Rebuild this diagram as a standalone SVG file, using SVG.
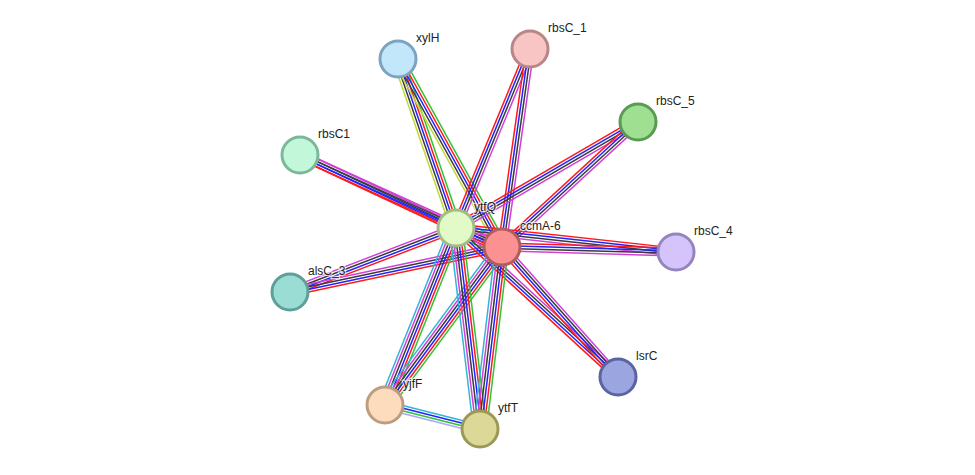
<svg xmlns="http://www.w3.org/2000/svg" width="975" height="475" viewBox="0 0 975 475">
<style>
.e line{stroke-width:1.5;fill:none}
.r{stroke:#ff1a1a}.b{stroke:#2222ff}.k{stroke:#3a3a3a}.m{stroke:#d040d8}.g{stroke:#33c233}.c{stroke:#33b4d6}.y{stroke:#c4d838}.l{stroke:#a8a8ff}
.n circle{stroke-width:3}
.n text{font-family:"Liberation Sans",Arial,sans-serif;font-size:12px;fill:#222;stroke:#fff;stroke-width:2.5;stroke-opacity:0.7;paint-order:stroke}
</style>
<rect width="975" height="475" fill="#fff"/>
<g id="edges" class="e">
<g transform="translate(456 228) rotate(22.44)"><line x2="49.8" y1="-7.8" y2="-7.8" class="c"/><line x2="49.8" y1="-5.2" y2="-5.2" class="y"/><line x2="49.8" y1="-2.6" y2="-2.6" class="m"/><line x2="49.8" class="k"/><line x2="49.8" y1="2.6" y2="2.6" class="b"/><line x2="49.8" y1="5.2" y2="5.2" class="r"/><line x2="49.8" y1="7.8" y2="7.8" class="g"/></g>
<g transform="translate(398 59) rotate(71.06)"><line x2="178.7" y1="-5.2" y2="-5.2" class="g"/><line x2="178.7" y1="-2.6" y2="-2.6" class="r"/><line x2="178.7" class="b"/><line x2="178.7" y1="2.6" y2="2.6" class="k"/><line x2="178.7" y1="5.2" y2="5.2" class="y"/></g>
<g transform="translate(398 59) rotate(61.05)"><line x2="214.8" y1="-5.2" y2="-5.2" class="g"/><line x2="214.8" y1="-2.6" y2="-2.6" class="r"/><line x2="214.8" class="b"/><line x2="214.8" y1="2.6" y2="2.6" class="k"/><line x2="214.8" y1="5.2" y2="5.2" class="y"/></g>
<g transform="translate(530 49) rotate(112.46)"><line x2="193.7" y1="-3.9" y2="-3.9" class="m"/><line x2="193.7" y1="-1.3" y2="-1.3" class="k"/><line x2="193.7" y1="1.3" y2="1.3" class="b"/><line x2="193.7" y1="3.9" y2="3.9" class="r"/></g>
<g transform="translate(530 49) rotate(98.05)"><line x2="200" y1="-3.9" y2="-3.9" class="m"/><line x2="200" y1="-1.3" y2="-1.3" class="k"/><line x2="200" y1="1.3" y2="1.3" class="b"/><line x2="200" y1="3.9" y2="3.9" class="r"/></g>
<g transform="translate(638 122) rotate(149.78)"><line x2="210.6" y1="-3.9" y2="-3.9" class="m"/><line x2="210.6" y1="-1.3" y2="-1.3" class="k"/><line x2="210.6" y1="1.3" y2="1.3" class="b"/><line x2="210.6" y1="3.9" y2="3.9" class="r"/></g>
<g transform="translate(638 122) rotate(137.41)"><line x2="184.7" y1="-3.9" y2="-3.9" class="m"/><line x2="184.7" y1="-1.3" y2="-1.3" class="k"/><line x2="184.7" y1="1.3" y2="1.3" class="b"/><line x2="184.7" y1="3.9" y2="3.9" class="r"/></g>
<g transform="translate(300 155) rotate(25.08)"><line x2="172.2" y1="-3.9" y2="-3.9" class="m"/><line x2="172.2" y1="-1.3" y2="-1.3" class="k"/><line x2="172.2" y1="1.3" y2="1.3" class="b"/><line x2="172.2" y1="3.9" y2="3.9" class="r"/></g>
<g transform="translate(300 155) rotate(24.49)"><line x2="222" y1="-3.9" y2="-3.9" class="m"/><line x2="222" y1="-1.3" y2="-1.3" class="k"/><line x2="222" y1="1.3" y2="1.3" class="b"/><line x2="222" y1="3.9" y2="3.9" class="r"/></g>
<g transform="translate(290 292) rotate(-21.08)"><line x2="177.9" y1="-3.9" y2="-3.9" class="m"/><line x2="177.9" y1="-1.3" y2="-1.3" class="k"/><line x2="177.9" y1="1.3" y2="1.3" class="b"/><line x2="177.9" y1="3.9" y2="3.9" class="r"/></g>
<g transform="translate(290 292) rotate(-11.98)"><line x2="216.7" y1="-3.9" y2="-3.9" class="m"/><line x2="216.7" y1="-1.3" y2="-1.3" class="k"/><line x2="216.7" y1="1.3" y2="1.3" class="b"/><line x2="216.7" y1="3.9" y2="3.9" class="r"/></g>
<g transform="translate(676 252) rotate(186.23)"><line x2="221.3" y1="-3.9" y2="-3.9" class="m"/><line x2="221.3" y1="-1.3" y2="-1.3" class="k"/><line x2="221.3" y1="1.3" y2="1.3" class="b"/><line x2="221.3" y1="3.9" y2="3.9" class="r"/></g>
<g transform="translate(676 252) rotate(181.65)"><line x2="174.1" y1="-3.9" y2="-3.9" class="m"/><line x2="174.1" y1="-1.3" y2="-1.3" class="k"/><line x2="174.1" y1="1.3" y2="1.3" class="b"/><line x2="174.1" y1="3.9" y2="3.9" class="r"/></g>
<g transform="translate(456 228) rotate(42.61)"><line x2="220.1" y1="-3.9" y2="-3.9" class="m"/><line x2="220.1" y1="-1.3" y2="-1.3" class="k"/><line x2="220.1" y1="1.3" y2="1.3" class="b"/><line x2="220.1" y1="3.9" y2="3.9" class="r"/></g>
<g transform="translate(502 247) rotate(48.26)"><line x2="174.2" y1="-3.9" y2="-3.9" class="m"/><line x2="174.2" y1="-1.3" y2="-1.3" class="k"/><line x2="174.2" y1="1.3" y2="1.3" class="b"/><line x2="174.2" y1="3.9" y2="3.9" class="r"/></g>
<g transform="translate(385 405) rotate(-68.14)"><line x2="190.7" y1="-6.5" y2="-6.5" class="c"/><line x2="190.7" y1="-3.9" y2="-3.9" class="m"/><line x2="190.7" y1="-1.3" y2="-1.3" class="k"/><line x2="190.7" y1="1.3" y2="1.3" class="b"/><line x2="190.7" y1="3.9" y2="3.9" class="r"/><line x2="190.7" y1="6.5" y2="6.5" class="g"/></g>
<g transform="translate(385 405) rotate(-53.48)"><line x2="196.6" y1="-6.5" y2="-6.5" class="c"/><line x2="196.6" y1="-3.9" y2="-3.9" class="m"/><line x2="196.6" y1="-1.3" y2="-1.3" class="k"/><line x2="196.6" y1="1.3" y2="1.3" class="b"/><line x2="196.6" y1="3.9" y2="3.9" class="r"/><line x2="196.6" y1="6.5" y2="6.5" class="g"/></g>
<g transform="translate(480 429) rotate(-96.81)"><line x2="202.4" y1="-6.5" y2="-6.5" class="c"/><line x2="202.4" y1="-3.9" y2="-3.9" class="m"/><line x2="202.4" y1="-1.3" y2="-1.3" class="k"/><line x2="202.4" y1="1.3" y2="1.3" class="b"/><line x2="202.4" y1="3.9" y2="3.9" class="r"/><line x2="202.4" y1="6.5" y2="6.5" class="g"/></g>
<g transform="translate(480 429) rotate(-83.11)"><line x2="183.3" y1="-6.5" y2="-6.5" class="c"/><line x2="183.3" y1="-3.9" y2="-3.9" class="m"/><line x2="183.3" y1="-1.3" y2="-1.3" class="k"/><line x2="183.3" y1="1.3" y2="1.3" class="b"/><line x2="183.3" y1="3.9" y2="3.9" class="r"/><line x2="183.3" y1="6.5" y2="6.5" class="g"/></g>
<g transform="translate(385 405) rotate(14.18)"><line x2="98" y1="-3.9" y2="-3.9" class="c"/><line x2="98" y1="-1.3" y2="-1.3" class="b"/><line x2="98" y1="1.3" y2="1.3" class="g"/><line x2="98" y1="3.9" y2="3.9" class="l"/></g>
</g>
<g id="xylH" class="n"><circle cx="398" cy="59" r="18" fill="#c2e7fb" stroke="#7ca4c0"/><text x="416" y="42">xylH</text></g>
<g id="rbsC_1" class="n"><circle cx="530" cy="49" r="18" fill="#f8c4c4" stroke="#b88686"/><text x="548" y="32">rbsC_1</text></g>
<g id="rbsC_5" class="n"><circle cx="638" cy="122" r="18" fill="#9fdf92" stroke="#5b9a53"/><text x="656" y="105">rbsC_5</text></g>
<g id="rbsC1" class="n"><circle cx="300" cy="155" r="18" fill="#c2f7da" stroke="#7bb899"/><text x="318" y="138">rbsC1</text></g>
<g id="alsC_3" class="n"><circle cx="290" cy="292" r="18" fill="#9addd5" stroke="#5f9f97"/><text x="308" y="275">alsC_3</text></g>
<g id="rbsC_4" class="n"><circle cx="676" cy="252" r="18" fill="#d4c4fb" stroke="#9585bf"/><text x="694" y="235">rbsC_4</text></g>
<g id="lsrC" class="n"><circle cx="618" cy="377" r="18" fill="#9ba6e1" stroke="#5a64a1"/><text x="636" y="360">lsrC</text></g>
<g id="yjfF" class="n"><circle cx="385" cy="405" r="18" fill="#fddcbd" stroke="#bd9d80"/><text x="403" y="388">yjfF</text></g>
<g id="ytfT" class="n"><circle cx="480" cy="429" r="18" fill="#dcd897" stroke="#9c9857"/><text x="498" y="412">ytfT</text></g>
<g id="ytfQ" class="n"><circle cx="456" cy="228" r="18" fill="#e1fac7" stroke="#a3bc87"/><text x="474" y="211">ytfQ</text></g>
<g id="ccmA-6" class="n"><circle cx="502" cy="247" r="18" fill="#fb9191" stroke="#b25d5d"/><text x="520" y="230">ccmA-6</text></g>
</svg>
